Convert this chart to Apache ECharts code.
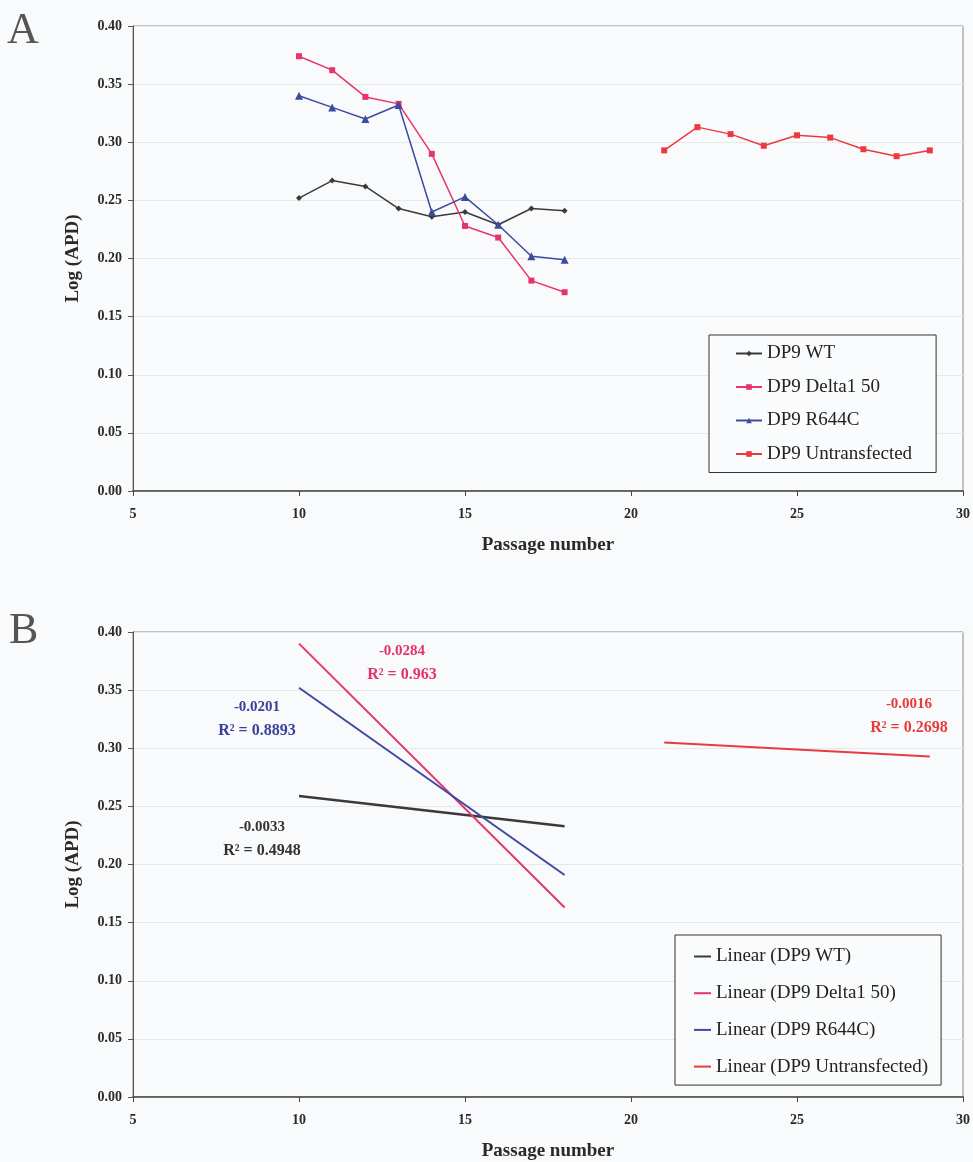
<!DOCTYPE html>
<html>
<head>
<meta charset="utf-8">
<script src="https://cdn.jsdelivr.net/npm/echarts@6/dist/echarts.min.js"></script>
<style>
html,body{margin:0;padding:0;background:#f9fafb;}
#chart{width:973px;height:1162px;}
</style>
</head>
<body>
<div id="chart"></div>
<script>
// ---- data ----
const passage = [10, 11, 12, 13, 14, 15, 16, 17, 18];
const passageUntrans = [21, 22, 23, 24, 25, 26, 27, 28, 29];
const wt = [0.252, 0.267, 0.262, 0.243, 0.236, 0.240, 0.229, 0.243, 0.241];
const delta150 = [0.374, 0.362, 0.339, 0.333, 0.290, 0.228, 0.218, 0.181, 0.171];
const r644c = [0.340, 0.330, 0.320, 0.332, 0.240, 0.253, 0.229, 0.202, 0.199];
const untrans = [0.293, 0.313, 0.307, 0.297, 0.306, 0.304, 0.294, 0.288, 0.293];

const seriesNames = ['DP9 WT', 'DP9 Delta1 50', 'DP9 R644C', 'DP9 Untransfected'];
const trendNames = ['Linear (DP9 WT)', 'Linear (DP9 Delta1 50)', 'Linear (DP9 R644C)', 'Linear (DP9 Untransfected)'];
// trend line endpoints (x start/end, y start/end)
const trendX = [[10, 18], [10, 18], [10, 18], [21, 29]];
const trendY = [[0.259, 0.233], [0.390, 0.163], [0.352, 0.191], [0.305, 0.293]];
const slopes = ['-0.0033', '-0.0284', '-0.0201', '-0.0016'];
const r2 = ['0.4948', '0.963', '0.8893', '0.2698'];
const xTicks = [5, 10, 15, 20, 25, 30];
const yTicks = [0, 0.05, 0.10, 0.15, 0.20, 0.25, 0.30, 0.35, 0.40];

// ---- styles ----
const colors = ['#3a3a3a', '#e8346c', '#3d4aa0', '#ea3a40'];
const annColors = ['#333333', '#e2336b', '#3a3f9a', '#e53b3b'];
const symbols = ['diamond', 'rect', 'triangle', 'rect'];
const serif = '"Liberation Serif", "Times New Roman", serif';

function pairs(xs, ys) { return xs.map((x, i) => [x, ys[i]]); }

const chart = echarts.init(document.getElementById('chart'), null, {renderer: 'canvas'});

function xAxisCfg(gi) {
  return {
    gridIndex: gi, type: 'value', min: xTicks[0], max: xTicks[xTicks.length - 1], interval: 5,
    name: 'Passage number', nameLocation: 'middle', nameGap: 45,
    nameTextStyle: {fontFamily: serif, fontWeight: 'bold', fontSize: 19, color: '#2a2a2a'},
    axisLine: {show: true, onZero: false, lineStyle: {color: '#444', width: 1.5}},
    axisTick: {show: true, length: 5, lineStyle: {color: '#444'}},
    axisLabel: {fontFamily: serif, fontWeight: 'bold', fontSize: 14, color: '#2a2a2a', margin: 16},
    splitLine: {show: false}
  };
}
function yAxisCfg(gi) {
  return {
    gridIndex: gi, type: 'value', min: yTicks[0], max: yTicks[yTicks.length - 1], interval: 0.05,
    name: 'Log (APD)', nameLocation: 'middle', nameGap: 50, nameRotate: 90,
    nameTextStyle: {fontFamily: serif, fontWeight: 'bold', fontSize: 19, color: '#2a2a2a'},
    axisLine: {show: true, lineStyle: {color: '#555', width: 1}},
    axisTick: {show: true, length: 5, lineStyle: {color: '#555'}},
    axisLabel: {fontFamily: serif, fontWeight: 'bold', fontSize: 14, color: '#2a2a2a', margin: 11,
      formatter: v => v.toFixed(2)},
    splitLine: {show: true, lineStyle: {color: '#e6e8ea', width: 1}}
  };
}

const series = [];
const dataA = [pairs(passage, wt), pairs(passage, delta150), pairs(passage, r644c), pairs(passageUntrans, untrans)];
dataA.forEach((d, i) => {
  series.push({
    name: seriesNames[i], type: 'line', xAxisIndex: 0, yAxisIndex: 0, data: d,
    symbol: symbols[i], symbolSize: i === 2 ? 8 : 6, showSymbol: true,
    lineStyle: {color: colors[i], width: 1.5}, itemStyle: {color: colors[i]},
    animation: false
  });
});
trendX.forEach((xs, i) => {
  series.push({
    name: trendNames[i], type: 'line', xAxisIndex: 1, yAxisIndex: 1, data: pairs(xs, trendY[i]),
    symbol: 'none', lineStyle: {color: colors[i], width: i === 0 ? 2.5 : 2}, itemStyle: {color: colors[i]},
    animation: false
  });
});

// annotation positions (pixel centres) for panel B
const annPos = [[262, 827], [402, 651], [257, 707], [909, 704]];
const graphics = [
  {type: 'text', left: 7, top: 9, style: {text: 'A', font: '44px ' + serif, fill: '#555'}},
  {type: 'text', left: 9, top: 609, style: {text: 'B', font: '44px ' + serif, fill: '#555'}}
];
annPos.forEach((p, i) => {
  graphics.push({type: 'text', x: p[0], y: p[1], style: {text: slopes[i], align: 'center', verticalAlign: 'middle',
    font: 'bold 15px ' + serif, fill: annColors[i]}});
  graphics.push({type: 'text', x: p[0], y: p[1] + 24, style: {text: 'R\u00B2 = ' + r2[i], align: 'center', verticalAlign: 'middle',
    font: 'bold 16px ' + serif, fill: annColors[i]}});
});

chart.setOption({
  backgroundColor: '#f9fafb',
  animation: false,
  grid: [
    {left: 133, right: 10, top: 26, height: 465, show: true, borderColor: '#8a8a8a', borderWidth: 1, backgroundColor: 'transparent'},
    {left: 133, right: 10, top: 632, height: 465, show: true, borderColor: '#8a8a8a', borderWidth: 1, backgroundColor: 'transparent'}
  ],
  xAxis: [xAxisCfg(0), xAxisCfg(1)],
  yAxis: [yAxisCfg(0), yAxisCfg(1)],
  legend: [
    {data: seriesNames, orient: 'vertical', left: 709, top: 335, itemGap: 14.5, itemWidth: 26, itemHeight: 7,
     padding: [9, 24, 9, 26], borderColor: '#333', borderWidth: 1, backgroundColor: '#fafbfc',
     textStyle: {fontFamily: serif, fontSize: 19, color: '#222'}},
    {data: trendNames.map(n => ({name: n, icon: 'rect'})), orient: 'vertical', left: 675, top: 935, itemGap: 17.7,
     itemWidth: 17, itemHeight: 2,
     padding: [12, 13, 9, 19], borderColor: '#333', borderWidth: 1, backgroundColor: '#fafbfc',
     textStyle: {fontFamily: serif, fontSize: 19, color: '#222'}}
  ],
  graphic: graphics,
  series: series
});
</script>
</body>
</html>
